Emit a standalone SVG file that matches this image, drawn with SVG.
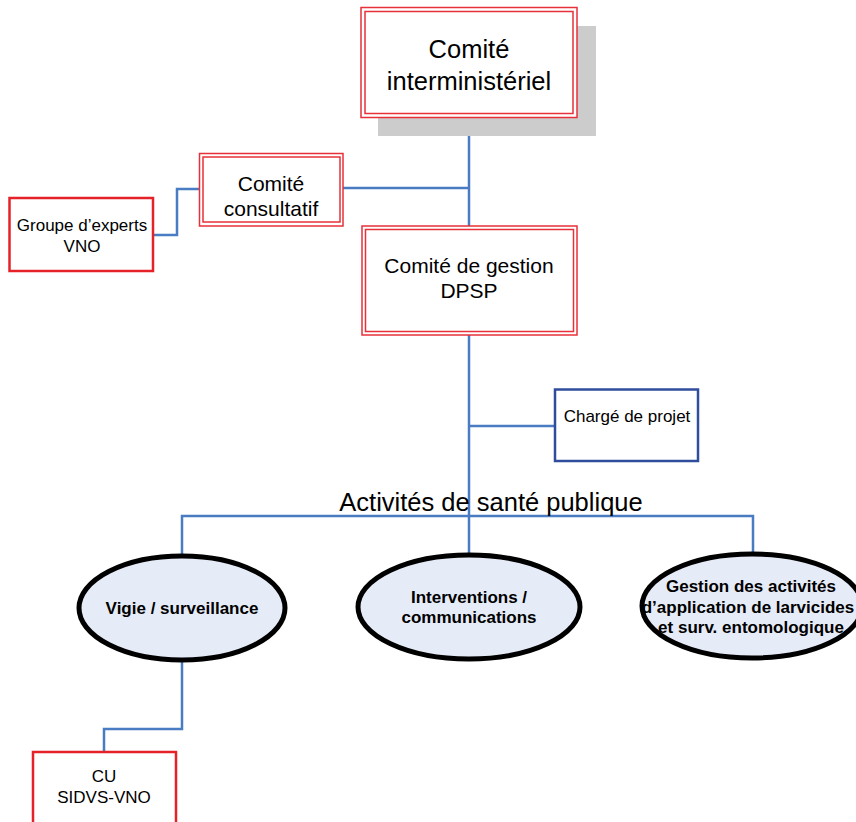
<svg xmlns="http://www.w3.org/2000/svg" width="856" height="822" viewBox="0 0 856 822">
<style>
text{font-family:"Liberation Sans",Arial,sans-serif;fill:#000;text-anchor:middle}
.dbl{fill:none;stroke:#E8303A;stroke-width:1.5}
.bg{fill:#fff}
.red{fill:#fff;stroke:#E52228;stroke-width:2.5}
.blue{fill:#fff;stroke:#2F4D9C;stroke-width:2.5}
.ell{fill:#E6ECF7;stroke:#000;stroke-width:5}
.conn{fill:none;stroke:#4A7CC4;stroke-width:2.5}
.b{font-weight:bold;font-size:17px}
.s{font-size:17px}
.m{font-size:21px}
</style>
<rect width="856" height="822" fill="#fff"/>
<g id="connectors">
<path class="conn" d="M469 117V553"/>
<path class="conn" d="M343 188H469"/>
<path class="conn" d="M153 235H177V189H199"/>
<path class="conn" d="M469 426H554"/>
<path class="conn" d="M182 555V516H753V552"/>
<path class="conn" d="M182 662V729H104V752"/>
</g>
<g id="comite-interministeriel">
<rect x="378" y="26" width="218" height="110" fill="#CCCCCC"/>
<rect class="bg" x="361" y="7.5" width="216" height="110"/>
<rect class="dbl" x="361" y="7.5" width="216" height="110"/>
<rect class="dbl" x="365" y="11.5" width="208" height="102"/>
<text x="469" y="58" font-size="25.5">Comité</text>
<text x="469" y="90" font-size="25.5">interministériel</text>
</g>
<g id="comite-consultatif">
<rect class="bg" x="199" y="153" width="144" height="73"/>
<rect class="dbl" x="199.5" y="153.5" width="143.5" height="72.5"/>
<rect class="dbl" x="203" y="157" width="137" height="65"/>
<text class="m" x="271" y="191">Comité</text>
<text class="m" x="271" y="216">consultatif</text>
</g>
<g id="groupe-experts">
<rect class="red" x="9.5" y="198" width="143.5" height="73"/>
<text class="s" x="82" y="231">Groupe d’experts</text>
<text class="s" x="82" y="252">VNO</text>
</g>
<g id="comite-gestion">
<rect class="bg" x="362" y="226" width="215" height="109"/>
<rect class="dbl" x="362" y="226" width="215" height="109"/>
<rect class="dbl" x="365.5" y="229.5" width="208" height="102"/>
<text class="m" x="469" y="273">Comité de gestion</text>
<text class="m" x="469" y="298">DPSP</text>
</g>
<g id="charge-projet">
<rect class="blue" x="555" y="389.5" width="143" height="71.5"/>
<text class="s" x="627" y="422">Chargé de projet</text>
</g>
<g id="activites-label">
<text x="491" y="511" font-size="25.5">Activités de santé publique</text>
</g>
<g id="vigie">
<ellipse class="ell" cx="182" cy="608" rx="103" ry="52"/>
<text class="b" x="182" y="614">Vigie / surveillance</text>
</g>
<g id="interventions">
<ellipse class="ell" cx="469" cy="607" rx="111" ry="52"/>
<text class="b" x="469" y="603">Interventions /</text>
<text class="b" x="469" y="623">communications</text>
</g>
<g id="gestion">
<ellipse class="ell" cx="752" cy="606" rx="110" ry="52"/>
<text class="b" x="751" y="592">Gestion des activités</text>
<text class="b" x="748" y="613" font-size="16.6">d’application de larvicides</text>
<text class="b" x="751" y="633">et surv. entomologique</text>
</g>
<g id="cu-sidvs">
<rect class="red" x="33" y="752" width="143" height="80"/>
<text class="s" x="104" y="782">CU</text>
<text class="s" x="104" y="803">SIDVS-VNO</text>
</g>
</svg>
